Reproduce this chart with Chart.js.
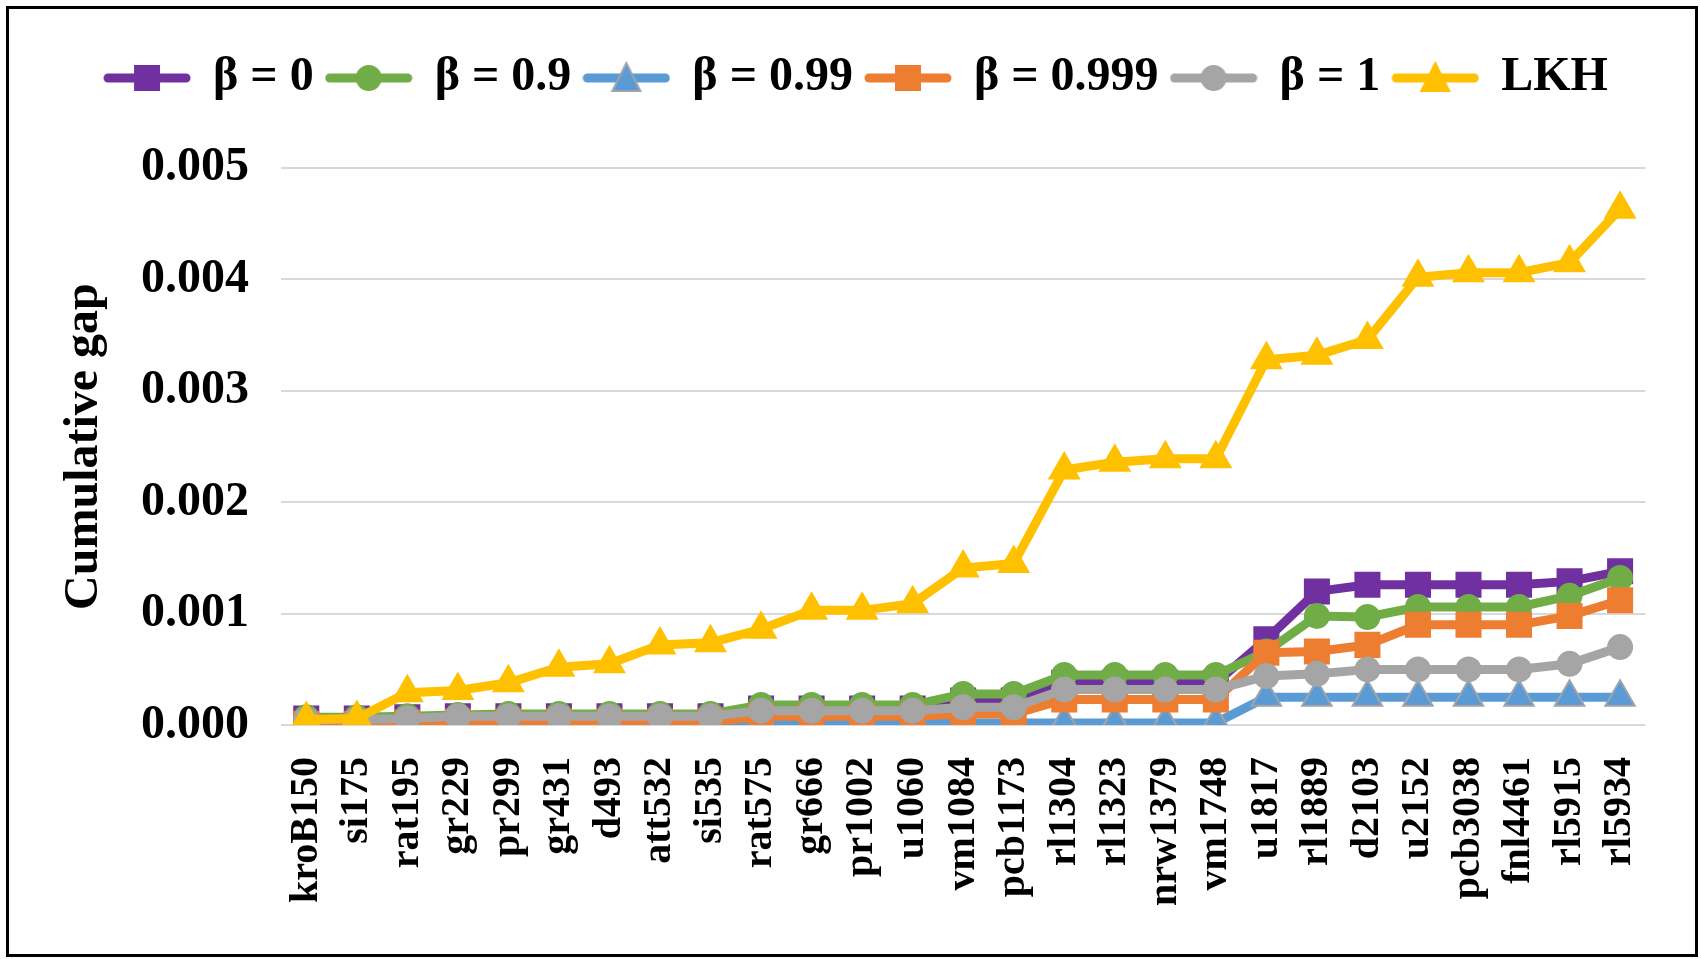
<!DOCTYPE html>
<html>
<head>
<meta charset="utf-8">
<script src="https://cdn.jsdelivr.net/npm/chart.js@4.4.1/dist/chart.umd.min.js"></script>
<style>
  html, body { margin: 0; padding: 0; background: #fff; }
  #wrap { position: relative; width: 1701px; height: 959px; }
  #frame { position: absolute; left: 6px; top: 6px; width: 1686px; height: 945px; border: 3px solid #000; pointer-events: none; }
</style>
</head>
<body>
<div id="wrap">
  <canvas id="gapChart" width="1701" height="959"></canvas>
  <div id="frame"></div>
</div>
<script>
const instances = ['kroB150', 'si175', 'rat195', 'gr229', 'pr299', 'gr431', 'd493', 'att532', 'si535',
  'rat575', 'gr666', 'pr1002', 'u1060', 'vm1084', 'pcb1173', 'rl1304', 'rl1323', 'nrw1379', 'vm1748',
  'u1817', 'rl1889', 'd2103', 'u2152', 'pcb3038', 'fnl4461', 'rl5915', 'rl5934'];

const gapBeta0 = [0.00006, 0.00006, 0.00007, 0.00008, 0.00008, 0.00008, 0.00008, 0.00008, 0.00008,
  0.00015, 0.00015, 0.00015, 0.00015, 0.00022, 0.00022, 0.00038, 0.00038, 0.00038, 0.00038,
  0.00077, 0.00120, 0.00126, 0.00126, 0.00126, 0.00126, 0.00129, 0.00138];
const gapBeta09 = [0.00007, 0.00007, 0.00008, 0.00009, 0.00010, 0.00010, 0.00010, 0.00010, 0.00010,
  0.00018, 0.00018, 0.00018, 0.00018, 0.00028, 0.00028, 0.00045, 0.00045, 0.00045, 0.00045,
  0.00066, 0.00098, 0.00097, 0.00106, 0.00106, 0.00106, 0.00116, 0.00132];
const gapBeta099 = [0.00001, 0.00001, 0.00001, 0.00001, 0.00001, 0.00001, 0.00001, 0.00001, 0.00001,
  0.00002, 0.00002, 0.00002, 0.00002, 0.00002, 0.00002, 0.00002, 0.00002, 0.00002, 0.00002,
  0.00025, 0.00025, 0.00025, 0.00025, 0.00025, 0.00025, 0.00025, 0.00025];
const gapBeta0999 = [0.00001, 0.00001, 0.00002, 0.00003, 0.00003, 0.00003, 0.00003, 0.00003, 0.00003,
  0.00008, 0.00008, 0.00008, 0.00008, 0.00010, 0.00010, 0.00023, 0.00023, 0.00023, 0.00023,
  0.00065, 0.00066, 0.00072, 0.00090, 0.00090, 0.00090, 0.00098, 0.00112];
const gapBeta1 = [0.00005, 0.00005, 0.00006, 0.00008, 0.00008, 0.00008, 0.00008, 0.00008, 0.00008,
  0.00013, 0.00013, 0.00013, 0.00013, 0.00016, 0.00016, 0.00032, 0.00032, 0.00032, 0.00032,
  0.00044, 0.00046, 0.00050, 0.00050, 0.00050, 0.00050, 0.00055, 0.00070];
const gapLKH = [0.00005, 0.00006, 0.00029, 0.00031, 0.00038, 0.00052, 0.00055, 0.00072, 0.00074,
  0.00086, 0.00103, 0.00103, 0.00109, 0.00141, 0.00145, 0.00229, 0.00236, 0.00239, 0.00239,
  0.00328, 0.00332, 0.00346, 0.00402, 0.00406, 0.00406, 0.00415, 0.00463];

const seriesLabels = ['β = 0', 'β = 0.9', 'β = 0.99', 'β = 0.999', 'β = 1', 'LKH'];
const yTicks = [0, 0.001, 0.002, 0.003, 0.004, 0.005];

const serif = '"Liberation Serif", "Times New Roman", serif';

// colour, marker, marker size, marker outline
const looks = [
  { color: '#7030A0', style: 'rect', r: 17, edge: '#7030A0' },
  { color: '#70AD47', style: 'circle', r: 12, edge: '#70AD47' },
  { color: '#5B9BD5', style: 'triangle', r: 17, edge: '#A0A4AA' },
  { color: '#ED7D31', style: 'rect', r: 17, edge: '#ED7D31' },
  { color: '#A5A5A5', style: 'circle', r: 12, edge: '#A5A5A5' },
  { color: '#FFC000', style: 'triangle', r: 17, edge: '#FFC000' }
];
const seriesData = [gapBeta0, gapBeta09, gapBeta099, gapBeta0999, gapBeta1, gapLKH];

// legend swatch: short line with the marker on it
function makeSwatch(look) {
  const c = document.createElement('canvas');
  c.width = 88; c.height = 36;
  const g = c.getContext('2d');
  g.strokeStyle = look.color; g.lineWidth = 9; g.lineCap = 'round';
  g.beginPath(); g.moveTo(5, 18); g.lineTo(83, 18); g.stroke();
  g.fillStyle = look.color; g.strokeStyle = look.edge; g.lineWidth = 2;
  g.beginPath();
  if (look.style === 'rect') {
    g.rect(32, 6, 24, 24);
  } else if (look.style === 'circle') {
    g.arc(44, 18, 12, 0, Math.PI * 2);
  } else {
    g.moveTo(44, 3); g.lineTo(58, 31); g.lineTo(30, 31); g.closePath();
  }
  g.fill(); g.stroke();
  return c;
}
const swatches = looks.map(makeSwatch);

const legendSpacer = {
  id: 'legendSpacer',
  afterInit(chart) {
    const fit = chart.legend.fit;
    chart.legend.fit = function () { fit.call(this); this.height += 56; };
  }
};

const ctx = document.getElementById('gapChart').getContext('2d');
new Chart(ctx, {
  type: 'line',
  data: {
    labels: instances,
    datasets: seriesLabels.map((label, i) => ({
      label: label,
      data: seriesData[i],
      borderColor: looks[i].color,
      backgroundColor: looks[i].color,
      borderWidth: 9,
      pointStyle: looks[i].style,
      pointRadius: looks[i].r,
      pointBorderWidth: 2,
      pointBorderColor: looks[i].edge,
      pointBackgroundColor: looks[i].color,
      tension: 0,
      order: seriesLabels.length - i
    }))
  },
  options: {
    responsive: false,
    animation: false,
    layout: { padding: { top: 41, left: 61, right: 49, bottom: 21 } },
    plugins: {
      tooltip: { enabled: false },
      legend: {
        position: 'top',
        labels: {
          usePointStyle: true,
          pointStyleWidth: 84,
          padding: 13,
          color: '#000',
          font: { family: serif, size: 48, weight: 'bold' },
          sort: (a, b) => a.datasetIndex - b.datasetIndex,
          generateLabels(chart) {
            const items = Chart.defaults.plugins.legend.labels.generateLabels(chart);
            items.forEach(it => { it.pointStyle = swatches[it.datasetIndex]; });
            return items;
          }
        }
      }
    },
    scales: {
      x: {
        offset: true,
        grid: { display: false, drawTicks: false },
        border: { display: false },
        ticks: {
          autoSkip: false, maxRotation: 90, minRotation: 90, padding: 32,
          color: '#000', font: { family: serif, size: 40, weight: 'bold' }
        }
      },
      y: {
        min: 0,
        max: 0.005,
        afterBuildTicks(scale) { scale.ticks = yTicks.map(v => ({ value: v })); },
        grid: { color: '#D9D9D9', lineWidth: 2, drawTicks: false },
        border: { display: false },
        ticks: {
          padding: 32,
          color: '#000',
          font: { family: serif, size: 48, weight: 'bold' },
          callback: v => Number(v).toFixed(3)
        },
        title: {
          display: true,
          text: 'Cumulative gap',
          color: '#000',
          font: { family: serif, size: 48, weight: 'bold', lineHeight: 1 },
          padding: { top: 0, bottom: 0 }
        }
      }
    }
  },
  plugins: [legendSpacer]
});
</script>
</body>
</html>
